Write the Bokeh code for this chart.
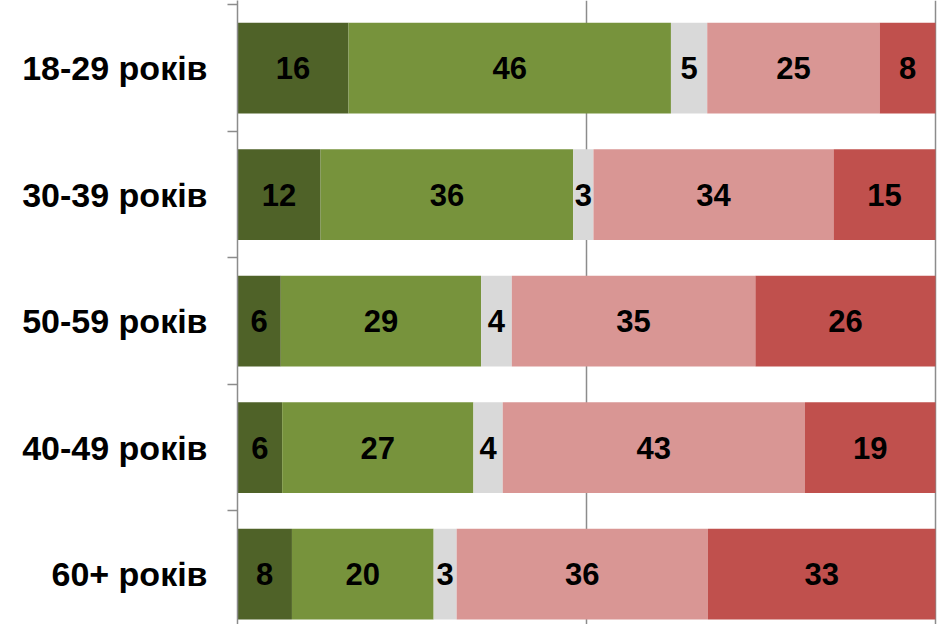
import numpy as np
from bokeh.plotting import figure
from bokeh.models import ColumnDataSource, Range1d, FixedTicker
from bokeh.core.properties import value
from bokeh.embed import file_html
from bokeh.resources import INLINE

categories = ["18-29 років", "30-39 років", "50-59 років", "40-49 років", "60+ років"]
very_positive = [15.9, 11.9, 6.2, 6.4, 7.8]
positive = [46.2, 36.2, 28.7, 27.4, 20.3]
neutral = [5.2, 2.9, 4.4, 4.2, 3.3]
negative = [24.7, 34.4, 34.9, 43.3, 36.0]
very_negative = [8.0, 14.6, 25.8, 18.7, 32.6]

series = [very_positive, positive, neutral, negative, very_negative]
colors = ["#4F6228", "#77933C", "#D9D9D9", "#D99694", "#C0504D"]

n = len(categories)
ycenters = [n - i - 0.5 for i in range(n)]
boundaries = [float(k) for k in range(n + 1)]

FONT = "Liberation Sans"

p = figure(width=937, height=624, output_backend="svg", toolbar_location=None,
           x_range=Range1d(0, 100.29), y_range=Range1d(0.101, 5.034),
           min_border_left=237, min_border_right=0, min_border_top=0, min_border_bottom=0)
p.outline_line_color = None
p.background_fill_color = "white"

left = np.zeros(n)
for vals, col in zip(series, colors):
    vals = np.array(vals, dtype=float)
    right = left + vals
    src = ColumnDataSource(dict(y=ycenters, left=left, right=right,
                                xc=(left + right) / 2,
                                lab=[f"{v:.0f}" for v in vals]))
    p.hbar(y="y", left="left", right="right", height=0.717, source=src,
           fill_color=col, line_color=None)
    p.text(x="xc", y="y", text="lab", source=src, text_align="center",
           text_baseline="middle", text_font=value(FONT), text_font_style="bold",
           text_font_size="31px", text_color="black")
    left = right

p.xaxis.visible = False
p.ygrid.visible = False
p.xgrid.ticker = FixedTicker(ticks=[50, 100])
p.xgrid.grid_line_color = "#8C8C8C"
p.xgrid.grid_line_width = 1.5

ya = p.yaxis[0]
ya.ticker = FixedTicker(ticks=ycenters, minor_ticks=boundaries)
ya.major_label_overrides = {c: name for c, name in zip(ycenters, categories)}
ya.major_tick_out = 0
ya.major_tick_in = 0
ya.minor_tick_out = 10
ya.minor_tick_in = 0
ya.minor_tick_line_color = "#8C8C8C"
ya.minor_tick_line_width = 1.5
ya.axis_line_color = "#8C8C8C"
ya.axis_line_width = 1.5
ya.major_label_standoff = 20
ya.major_label_text_font = FONT
ya.major_label_text_font_style = "bold"
ya.major_label_text_font_size = "34px"
ya.major_label_text_color = "black"

open("out.html", "w").write(file_html(p, INLINE))
